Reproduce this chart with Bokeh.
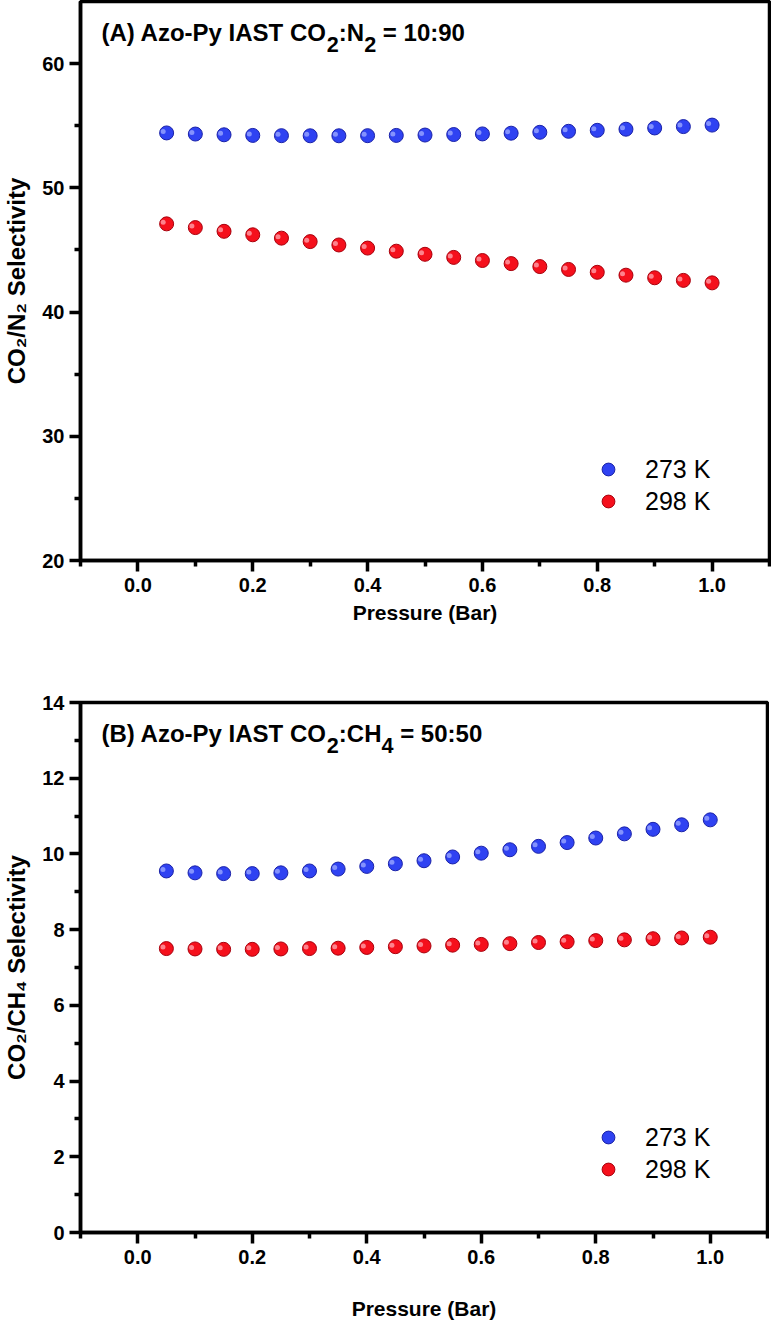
from bokeh.plotting import figure
from bokeh.layouts import column
from bokeh.models import (ColumnDataSource, Label, Legend, LegendItem, FixedTicker,
                          NumeralTickFormatter, Range1d)
from bokeh.transform import dodge
from bokeh.embed import file_html
from bokeh.resources import INLINE

# ---------------- data ----------------
pressure = [0.05, 0.10, 0.15, 0.20, 0.25, 0.30, 0.35, 0.40, 0.45, 0.50,
            0.55, 0.60, 0.65, 0.70, 0.75, 0.80, 0.85, 0.90, 0.95, 1.00]

n2_273 = [54.42, 54.33, 54.27, 54.22, 54.20, 54.19, 54.19, 54.20, 54.22, 54.25,
          54.29, 54.34, 54.40, 54.47, 54.55, 54.63, 54.72, 54.82, 54.93, 55.05]
n2_298 = [47.10, 46.80, 46.50, 46.22, 45.95, 45.67, 45.40, 45.15, 44.90, 44.65,
          44.40, 44.15, 43.90, 43.66, 43.43, 43.20, 42.97, 42.76, 42.55, 42.35]

ch4_273 = [9.55, 9.50, 9.48, 9.48, 9.50, 9.55, 9.60, 9.67, 9.74, 9.82,
           9.92, 10.02, 10.11, 10.20, 10.30, 10.42, 10.53, 10.65, 10.77, 10.90]
ch4_298 = [7.50, 7.49, 7.48, 7.48, 7.49, 7.50, 7.51, 7.53, 7.55, 7.57,
           7.59, 7.61, 7.63, 7.66, 7.68, 7.71, 7.73, 7.76, 7.78, 7.80]

series_labels = ["273 K", "298 K"]

x_ticks = [0.0, 0.2, 0.4, 0.6, 0.8, 1.0]
x_minor = [-0.1, 0.1, 0.3, 0.5, 0.7, 0.9, 1.1]
yA_ticks = [20, 30, 40, 50, 60]
yA_minor = [25, 35, 45, 55]
yB_ticks = [0, 2, 4, 6, 8, 10, 12, 14]
yB_minor = [1, 3, 5, 7, 9, 11, 13]

titleA = [("(A) Azo-Py IAST CO", False), ("2", True), (":N", False), ("2", True), (" = 10:90", False)]
titleB = [("(B) Azo-Py IAST CO", False), ("2", True), (":CH", False), ("4", True), (" = 50:50", False)]

# ---------------- style ----------------
FONT = "Liberation Sans"
BLUE, BLUE_EDGE, BLUE_HI = "#2f42f2", "#1a22a8", "#9aa6ff"
RED, RED_EDGE, RED_HI = "#f5101c", "#a8000c", "#ffa0aa"

# Arial-bold advance widths (per 1000 em) used to place title segments
ADV = {'(': 333, ')': 333, 'A': 722, ' ': 278, 'z': 500, 'o': 611, '-': 333, 'P': 667,
       'y': 556, 'I': 278, 'S': 667, 'T': 611, 'C': 722, 'O': 778, ':': 333, 'N': 722,
       '=': 584, 'H': 722, 'B': 722}


def text_w(s, fs):
    return sum(ADV.get(ch, 556) for ch in s) * fs / 1000.0


def style_axes(p, xlabel, ylabel, xlab_standoff):
    for ax in (p.xaxis[0], p.yaxis[0]):
        ax.axis_line_width = 3.5
        ax.major_tick_line_width = 3.5
        ax.minor_tick_line_width = 3.5
        ax.major_tick_out = 11
        ax.major_tick_in = 0
        ax.minor_tick_out = 6
        ax.minor_tick_in = 0
        ax.major_label_text_font = FONT
        ax.major_label_text_font_style = "bold"
        ax.major_label_text_font_size = "20px"
        ax.major_label_text_color = "black"
        ax.axis_label_text_font = FONT
        ax.axis_label_text_font_style = "bold"
        ax.axis_label_text_color = "black"
    p.xaxis.axis_label = xlabel
    p.yaxis.axis_label = ylabel
    p.xaxis.axis_label_text_font_size = "21px"
    p.yaxis.axis_label_text_font_size = "24px"
    p.xaxis.major_label_standoff = 6
    p.yaxis.major_label_standoff = 5
    p.xaxis.axis_label_standoff = xlab_standoff
    p.yaxis.axis_label_standoff = 9
    p.grid.visible = False
    p.outline_line_color = "black"
    p.outline_line_width = 3.5
    p.outline_line_alpha = 1.0


def add_title(p, segs, x0, y0, fs=24):
    off = 0.0
    for txt, sub in segs:
        size = fs * 0.9 if sub else fs
        lead = len(txt) - len(txt.lstrip(" "))
        off += text_w(" " * lead, size)
        p.add_layout(Label(x=x0, y=y0, x_offset=21 + off, y_offset=-31 - (12 if sub else 0),
                           text=txt.lstrip(" "), text_font=FONT, text_font_style="bold",
                           text_font_size=f"{size:.1f}px", text_baseline="middle",
                           text_color="black"))
        off += text_w(txt.lstrip(" "), size)


def panel(y0, y1, yt, ym, ylabel, s273, s298, segs, legend_loc, dy, frame_w, frame_h,
          borders, xlab_standoff):
    p = figure(output_backend="svg", toolbar_location=None,
               x_range=Range1d(-0.1, 1.1), y_range=Range1d(y0, y1),
               frame_width=frame_w, frame_height=frame_h,
               min_border_left=borders[0], min_border_right=2,
               min_border_top=borders[1], min_border_bottom=borders[2],
               background_fill_color="white", border_fill_color="white")
    style_axes(p, "Pressure (Bar)", ylabel, xlab_standoff)
    p.xaxis.ticker = FixedTicker(ticks=x_ticks, minor_ticks=x_minor)
    p.xaxis.formatter = NumeralTickFormatter(format="0.0")
    p.yaxis.ticker = FixedTicker(ticks=yt, minor_ticks=ym)

    src = ColumnDataSource(dict(x=pressure, a=s273, b=s298))
    r1 = p.scatter("x", "a", source=src, size=14, fill_color=BLUE, line_color=BLUE_EDGE, line_width=1)
    p.scatter(dodge("x", -0.006), dodge("a", dy), source=src, size=5, fill_color=BLUE_HI,
              line_color=None, fill_alpha=0.8)
    r2 = p.scatter("x", "b", source=src, size=14, fill_color=RED, line_color=RED_EDGE, line_width=1)
    p.scatter(dodge("x", -0.006), dodge("b", dy), source=src, size=5, fill_color=RED_HI,
              line_color=None, fill_alpha=0.8)

    leg = Legend(items=[LegendItem(label=series_labels[0], renderers=[r1]),
                        LegendItem(label=series_labels[1], renderers=[r2])],
                 location=legend_loc, glyph_width=32, glyph_height=32, spacing=0,
                 padding=0, margin=0, label_standoff=21, border_line_alpha=0,
                 background_fill_alpha=0, label_text_font=FONT, label_text_font_size="25px",
                 label_text_color="black", label_height=32)
    p.add_layout(leg)
    add_title(p, segs, -0.1, y1)
    return p


pA = panel(20, 65, yA_ticks, yA_minor, "CO₂/N₂ Selectivity", n2_273, n2_298, titleA,
           (512, 43), 0.12, 689, 559, (74, 2, 128), 6)
pB = panel(0, 14, yB_ticks, yB_minor, "CO₂/CH₄ Selectivity", ch4_273, ch4_298, titleB,
           (512, 47), 0.04, 687, 530, (76, 14, 92), 30)

layout = column(pA, pB, spacing=0, margin=(-1, 0, 0, 0))
open("out.html", "w").write(file_html(layout, INLINE))
